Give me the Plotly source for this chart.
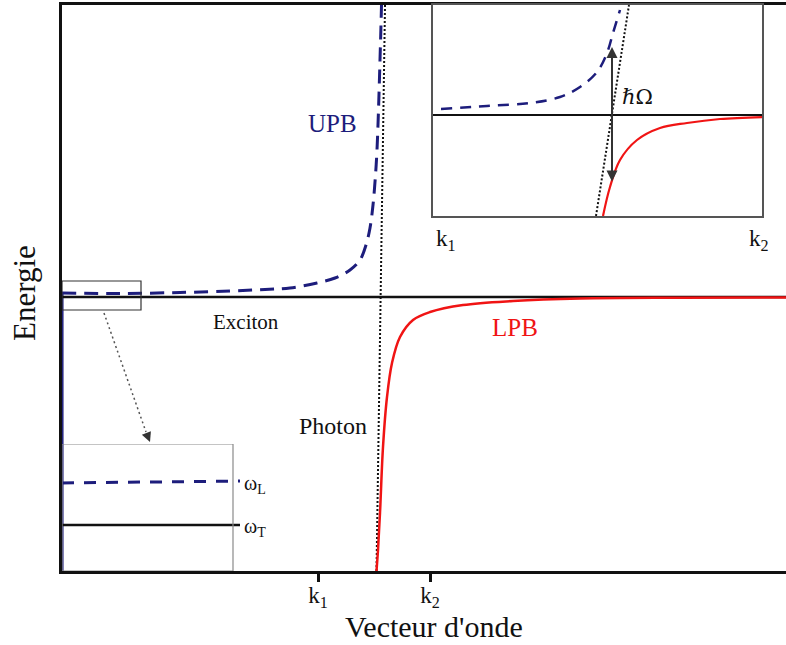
import plotly.graph_objects as go

# ---------------- data (arbitrary units) ----------------
# main panel: wave vector k (x) vs energy E (y)
exciton_k = [0, 724]
exciton_E = [274, 274]

upb_k = [0, 58, 118, 168, 203, 228, 255, 273, 288, 298, 304, 308, 311, 313.5, 315, 316.5, 318, 319, 319.5]
upb_E = [278, 277.5, 278.5, 280, 281.5, 283, 288, 293, 301, 311, 326, 343, 366, 396, 421, 461, 511, 546, 566]

upb_axis_k = [0.8, 0.8]
upb_axis_E = [0, 278]

photon_k = [314.5, 323]
photon_E = [0, 566]

lpb_k = [314.5, 316, 318, 321, 325, 330, 338, 351, 368, 401, 451, 518, 618, 724]
lpb_E = [0, 21, 58, 124, 174, 208, 234, 251, 259, 266, 270, 272.5, 273.3, 273.6]

main_tick_vals = [256, 368]
main_tick_text = ["k<sub>1</sub>", "k<sub>2</sub>"]

# zoom box and pointer
zoom_box_k = [0, 79]
zoom_box_E = [261, 290]
pointer_k = [42, 84]
pointer_E = [258, 139]
pointer_tip = (88, 129)

# inset 1 (near k = 0)
wl_k = [0, 178]
wl_E = [88, 90]
wt_k = [0, 178]
wt_E = [46, 46]
inset1_box_k = [0, 171]
inset1_box_E = [0, 127]

# inset 2 (anticrossing between k1 and k2)
ex2_k = [0, 329]
ex2_E = [101, 101]
upb2_k = [8, 54, 97, 127, 147, 164, 174, 180, 187]
upb2_E = [107, 110, 113, 119, 129, 144, 163, 183, 206]
ph2_k = [163, 196]
ph2_E = [0, 211]
lpb2_k = [170, 177, 187, 204, 227, 254, 287, 330]
lpb2_E = [0, 29, 56, 76, 88, 93, 97, 99]
rabi_k = 179
rabi_E = [33, 169]

# ---------------- style ----------------
W, H = 786, 645
FONT = "Liberation Serif"
NAVY = "#1d1d7c"
RED = "#f01414"
BLACK = "#111111"


def px_x(p):
    return p / W


def px_y(p):
    return 1 - p / H


fig = go.Figure()

# main panel traces
fig.add_trace(go.Scatter(x=upb_axis_k, y=upb_axis_E, mode="lines",
                         line=dict(color=NAVY, width=1.5), xaxis="x", yaxis="y"))
fig.add_trace(go.Scatter(x=exciton_k, y=exciton_E, mode="lines",
                         line=dict(color=BLACK, width=2.5), xaxis="x", yaxis="y"))
fig.add_trace(go.Scatter(x=photon_k, y=photon_E, mode="lines",
                         line=dict(color=BLACK, width=2, dash="2px,2px"), xaxis="x", yaxis="y"))
fig.add_trace(go.Scatter(x=upb_k, y=upb_E, mode="lines", line_shape="spline",
                         line=dict(color=NAVY, width=3, dash="14px,8px"), xaxis="x", yaxis="y"))
fig.add_trace(go.Scatter(x=lpb_k, y=lpb_E, mode="lines", line_shape="spline",
                         line=dict(color=RED, width=2.5), xaxis="x", yaxis="y"))
fig.add_trace(go.Scatter(x=pointer_k, y=pointer_E, mode="lines",
                         line=dict(color="#555555", width=1.5, dash="2px,3px"), xaxis="x", yaxis="y"))

# inset 1 traces
fig.add_trace(go.Scatter(x=wl_k, y=wl_E, mode="lines",
                         line=dict(color=NAVY, width=3, dash="12px,10px"), xaxis="x2", yaxis="y2"))
fig.add_trace(go.Scatter(x=wt_k, y=wt_E, mode="lines",
                         line=dict(color=BLACK, width=2.5), xaxis="x2", yaxis="y2"))

# inset 2 traces
fig.add_trace(go.Scatter(x=ex2_k, y=ex2_E, mode="lines",
                         line=dict(color=BLACK, width=2), xaxis="x3", yaxis="y3"))
fig.add_trace(go.Scatter(x=ph2_k, y=ph2_E, mode="lines",
                         line=dict(color=BLACK, width=2, dash="2px,2px"), xaxis="x3", yaxis="y3"))
fig.add_trace(go.Scatter(x=upb2_k, y=upb2_E, mode="lines", line_shape="spline",
                         line=dict(color=NAVY, width=2.5, dash="11px,8px"), xaxis="x3", yaxis="y3"))
fig.add_trace(go.Scatter(x=lpb2_k, y=lpb2_E, mode="lines", line_shape="spline",
                         line=dict(color=RED, width=2.2), xaxis="x3", yaxis="y3"))

shapes = [
    dict(type="rect", xref="x", yref="y", x0=zoom_box_k[0], x1=zoom_box_k[1],
         y0=zoom_box_E[0], y1=zoom_box_E[1], line=dict(color="#333333", width=1.2)),
    dict(type="rect", xref="x2", yref="y2", x0=inset1_box_k[0], x1=inset1_box_k[1],
         y0=inset1_box_E[0], y1=inset1_box_E[1], line=dict(color="#8a8a8a", width=1.2)),
]

annotations = [
    dict(text="UPB", x=270, y=448, xref="x", yref="y", showarrow=False,
         font=dict(family=FONT, size=25, color=NAVY)),
    dict(text="Exciton", x=184, y=249, xref="x", yref="y", showarrow=False,
         font=dict(family=FONT, size=21, color=BLACK)),
    dict(text="LPB", x=453, y=244, xref="x", yref="y", showarrow=False,
         font=dict(family=FONT, size=25, color=RED)),
    dict(text="Photon", x=271, y=145, xref="x", yref="y", showarrow=False,
         font=dict(family=FONT, size=24, color=BLACK)),
    dict(text="Energie", x=px_x(24), y=px_y(293), xref="paper", yref="paper", showarrow=False,
         xanchor="center", yanchor="middle",
         textangle=-90, font=dict(family=FONT, size=31, color=BLACK)),
    dict(text="Vecteur d'onde", x=px_x(434), y=px_y(626), xref="paper", yref="paper",
         xanchor="center", yanchor="middle",
         showarrow=False, font=dict(family=FONT, size=30, color=BLACK)),
    # pointer arrowhead
    dict(text="", x=pointer_tip[0], y=pointer_tip[1], ax=pointer_k[1], ay=pointer_E[1],
         xref="x", yref="y", axref="x", ayref="y", showarrow=True,
         arrowhead=2, arrowsize=1.3, arrowwidth=1.5, arrowcolor="#333333", standoff=0),
    # inset 1 labels
    dict(text="ω<sub>L</sub>", x=px_x(242), y=px_y(484), xref="paper", yref="paper",
         xanchor="left", yanchor="middle",
         showarrow=False, font=dict(family=FONT, size=20, color=BLACK)),
    dict(text="ω<sub>T</sub>", x=px_x(242), y=px_y(527), xref="paper", yref="paper",
         xanchor="left", yanchor="middle",
         showarrow=False, font=dict(family=FONT, size=20, color=BLACK)),
    # inset 2 labels
    dict(text="", x=rabi_k, y=rabi_E[1], ax=rabi_k, ay=rabi_E[0], xref="x3", yref="y3",
         axref="x3", ayref="y3", showarrow=True, arrowside="end+start", arrowhead=2,
         arrowsize=1.1, arrowwidth=2, arrowcolor="#333333", standoff=0, startstandoff=0),
    dict(text="<i>ℏ</i>Ω", x=204, y=119, xref="x3", yref="y3", showarrow=False,
         font=dict(family="DejaVu Serif", size=21, color=BLACK)),
    dict(text="k<sub>1</sub>", x=px_x(434), y=px_y(240), xref="paper", yref="paper",
         xanchor="left", yanchor="middle",
         showarrow=False, font=dict(family=FONT, size=23, color=BLACK)),
    dict(text="k<sub>2</sub>", x=px_x(771), y=px_y(240), xref="paper", yref="paper",
         xanchor="right", yanchor="middle",
         showarrow=False, font=dict(family=FONT, size=23, color=BLACK)),
]

fig.update_layout(
    width=W, height=H,
    margin=dict(l=0, r=0, t=0, b=0),
    paper_bgcolor="white", plot_bgcolor="rgba(0,0,0,0)",
    showlegend=False,
    xaxis=dict(domain=[px_x(62), 1], range=[0, 724], showgrid=False, zeroline=False,
               showline=True, linecolor=BLACK, linewidth=2.5, mirror=True,
               tickvals=main_tick_vals, ticktext=main_tick_text, ticks="outside",
               ticklen=8, tickwidth=2.5, tickcolor=BLACK, ticklabelstandoff=-6,
               tickfont=dict(family=FONT, size=23, color=BLACK)),
    yaxis=dict(domain=[px_y(571), px_y(5)], range=[0, 566], showgrid=False, zeroline=False,
               showline=True, linecolor=BLACK, linewidth=2.5, showticklabels=False, ticks=""),
    xaxis2=dict(domain=[px_x(62), px_x(240)], range=[0, 178], anchor="y2", visible=False),
    yaxis2=dict(domain=[px_y(571), px_y(444)], range=[0, 127], anchor="x2", visible=False),
    xaxis3=dict(domain=[px_x(433), px_x(762)], range=[0, 329], anchor="y3", showgrid=False,
                zeroline=False, showline=True, mirror=True, linecolor="#555555", linewidth=1.5,
                showticklabels=False, ticks=""),
    yaxis3=dict(domain=[px_y(216), px_y(5)], range=[0, 211], anchor="x3", showgrid=False,
                zeroline=False, showline=True, mirror=True, linecolor="#555555", linewidth=1.5,
                showticklabels=False, ticks=""),
    shapes=shapes,
    annotations=annotations,
)

fig.write_html("out.html", config={"displayModeBar": False},
               post_script="document.body.style.margin='0';document.body.style.overflow='hidden';")
